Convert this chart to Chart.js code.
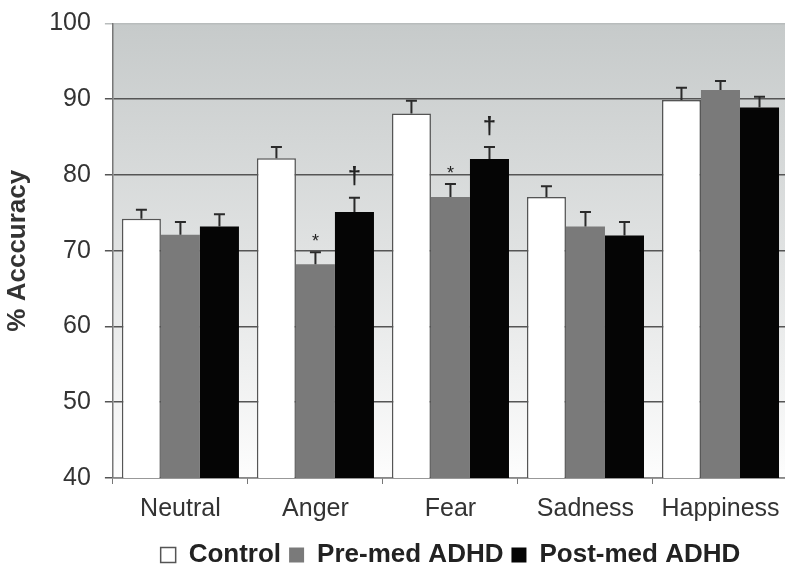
<!DOCTYPE html>
<html>
<head>
<meta charset="utf-8">
<script src="https://cdn.jsdelivr.net/npm/chart.js@4"></script>
<style>
  html, body { margin: 0; padding: 0; background: #fff; overflow: hidden; }
  #wrap { width: 785px; height: 565px; overflow: hidden; }
</style>
</head>
<body>
<div id="wrap"><canvas id="chart" width="790" height="565"></canvas></div>
<script>
  // Données
  const categories = ["Neutral", "Anger", "Fear", "Sadness", "Happiness"];
  const seriesNames = ["Control", "Pre-med ADHD", "Post-med ADHD"];
  const controlValues = [74.2, 82.2, 88.1, 77.1, 89.9];
  const controlErrors = [1.2, 1.5, 1.7, 1.4, 1.6];
  const preMedValues = [72.1, 68.2, 77.1, 73.2, 91.2];
  const preMedErrors = [1.7, 1.6, 1.7, 1.9, 1.2];
  const postMedValues = [73.2, 75.1, 82.1, 72.0, 88.9];
  const postMedErrors = [1.6, 1.9, 1.6, 1.8, 1.4];
  const preMedMarks = ["", "*", "*", "", ""];
  const postMedMarks = ["", "\u2020", "\u2020", "", ""];
  const yMin = 40, yMax = 100, yStep = 10;

  const errorsBySeries = [controlErrors, preMedErrors, postMedErrors];
  const marksBySeries = [null, preMedMarks, postMedMarks];
  const fontFamily = "'Liberation Sans', Arial, sans-serif";

  // Fond dégradé de la zone de tracé
  const backgroundPlugin = {
    id: "plotBackground",
    beforeDraw(chart) {
      const { ctx, chartArea: a } = chart;
      const g = ctx.createLinearGradient(0, a.top, 0, a.bottom);
      g.addColorStop(0, "#c6caca");
      g.addColorStop(0.5, "#e0e2e2");
      g.addColorStop(1, "#fdfdfd");
      ctx.save();
      ctx.fillStyle = g;
      ctx.fillRect(a.left, a.top, a.right - a.left, a.bottom - a.top);
      ctx.restore();
    }
  };

  // Barres d'erreur (vers le haut) et marques de significativité
  const errorBarPlugin = {
    id: "errorBars",
    afterDatasetsDraw(chart) {
      const { ctx } = chart;
      const yScale = chart.scales.y;
      ctx.save();
      chart.data.datasets.forEach((ds, i) => {
        const meta = chart.getDatasetMeta(i);
        meta.data.forEach((bar, j) => {
          const top = yScale.getPixelForValue(ds.data[j] + errorsBySeries[i][j]);
          ctx.strokeStyle = "#2a2a2a";
          ctx.lineWidth = 2;
          ctx.beginPath();
          ctx.moveTo(bar.x, bar.y);
          ctx.lineTo(bar.x, top);
          ctx.moveTo(bar.x - 5.5, top);
          ctx.lineTo(bar.x + 5.5, top);
          ctx.stroke();

          const marks = marksBySeries[i];
          if (marks && marks[j]) {
            ctx.fillStyle = "#222";
            ctx.textAlign = "center";
            ctx.textBaseline = "middle";
            if (marks[j] === "*") {
              ctx.font = "18px " + fontFamily;
              ctx.fillText(marks[j], bar.x, top - 10);
            } else {
              ctx.font = "bold 24px " + fontFamily;
              ctx.fillText(marks[j], bar.x, top - 20);
            }
          }
        });
      });
      ctx.restore();
    }
  };

  const ctx = document.getElementById("chart").getContext("2d");
  new Chart(ctx, {
    type: "bar",
    data: {
      labels: categories,
      datasets: [
        { label: seriesNames[0], data: controlValues, backgroundColor: "#ffffff", borderColor: "#555555", borderWidth: 1.5 },
        { label: seriesNames[1], data: preMedValues, backgroundColor: "#7a7a7a", borderColor: "#7a7a7a", borderWidth: 0 },
        { label: seriesNames[2], data: postMedValues, backgroundColor: "#050505", borderColor: "#050505", borderWidth: 0 }
      ]
    },
    options: {
      responsive: false,
      animation: false,
      layout: { padding: { left: 2, right: 2, top: 0, bottom: -13 } },
      datasets: { bar: { categoryPercentage: 0.867, barPercentage: 1.0 } },
      scales: {
        x: {
          grid: { offset: true, drawOnChartArea: false, color: "#777", tickLength: 6 },
          border: { color: "#888", width: 1.5 },
          ticks: { color: "#333", padding: 10, font: { family: fontFamily, size: 25 } }
        },
        y: {
          min: yMin,
          max: yMax,
          ticks: { stepSize: yStep, color: "#333", padding: 14, font: { family: fontFamily, size: 25, lineHeight: 0.75 } },
          grid: {
            color: c => (c.tick && c.tick.value === yMax ? "#b8bcbc" : "#555"),
            lineWidth: 1.5,
            tickLength: 8
          },
          border: { color: "#777", width: 1.5 },
          title: {
            display: true,
            text: "% Acccuracy",
            color: "#333",
            padding: { top: 0, bottom: 2 },
            font: { family: fontFamily, size: 26, weight: "bold" }
          }
        }
      },
      plugins: {
        legend: {
          position: "bottom",
          fullSize: false,
          labels: {
            boxWidth: 15,
            boxHeight: 15,
            padding: 8,
            color: "#222",
            font: { family: fontFamily, size: 26, weight: "bold" }
          }
        },
        tooltip: { enabled: false }
      }
    },
    plugins: [backgroundPlugin, errorBarPlugin]
  });
</script>
</body>
</html>
